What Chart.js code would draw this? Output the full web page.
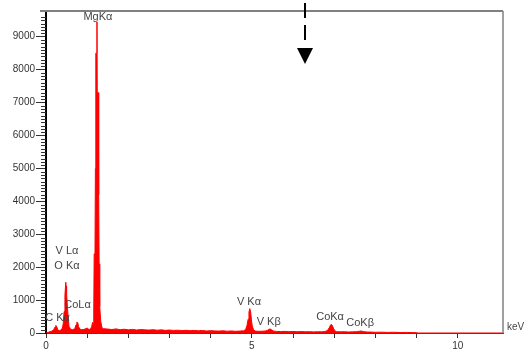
<!DOCTYPE html>
<html>
<head>
<meta charset="utf-8">
<script src="https://cdn.jsdelivr.net/npm/chart.js@4.4.1/dist/chart.umd.min.js"></script>
<style>
  html, body { margin: 0; padding: 0; background: #fff; }
  canvas { display: block; }
</style>
</head>
<body>
<canvas id="spectrum" width="529" height="349"></canvas>
<script>
// energy (keV) and counts
const energy = [
  0.00, 0.05, 0.10, 0.15, 0.19, 0.22, 0.24, 0.26, 0.29, 0.32, 0.36, 0.40, 0.42, 0.44,
  0.46, 0.48, 0.49, 0.50, 0.52, 0.54, 0.56, 0.60, 0.65, 0.70, 0.73, 0.75, 0.77, 0.79,
  0.82, 0.87, 0.92, 0.96, 1.00, 1.03, 1.06, 1.09, 1.11, 1.13, 1.15, 1.16, 1.17, 1.19,
  1.20, 1.21, 1.23, 1.238, 1.245, 1.27, 1.28, 1.29, 1.30, 1.31, 1.33, 1.36, 1.40, 1.50,
  1.60, 1.70, 1.80, 1.90, 2.00, 2.10, 2.20, 2.30, 2.40, 2.50, 2.60, 2.70, 2.80, 2.90,
  3.00, 3.10, 3.20, 3.30, 3.40, 3.50, 3.60, 3.70, 3.80, 3.90, 4.00, 4.10, 4.20, 4.30,
  4.40, 4.50, 4.60, 4.70, 4.80, 4.85, 4.88, 4.91, 4.93, 4.95, 4.97, 4.99, 5.01, 5.04,
  5.08, 5.15, 5.25, 5.33, 5.39, 5.42, 5.45, 5.48, 5.52, 5.60, 5.70, 5.80, 5.90, 6.00,
  6.10, 6.20, 6.30, 6.40, 6.50, 6.60, 6.70, 6.78, 6.84, 6.88, 6.91, 6.93, 6.96, 6.99,
  7.02, 7.06, 7.15, 7.25, 7.35, 7.45, 7.55, 7.62, 7.66, 7.72, 7.80, 7.90, 8.00, 8.15,
  8.30, 8.45, 8.60, 8.75, 8.90, 9.00, 9.05, 11.10
]
const counts = [
  0, 20, 40, 60, 110, 180, 230, 190, 90, 70, 90, 150, 300, 650,
  1150, 1540, 1420, 1200, 800, 450, 200, 110, 100, 130, 250, 330, 320, 200,
  120, 100, 110, 130, 150, 120, 110, 140, 200, 320, 280, 600, 2400, 2500,
  5000, 8500, 8500, 9450, 7300, 7300, 4200, 2100, 1500, 800, 350, 160, 130, 120,
  105, 125, 100, 115, 95, 110, 90, 105, 95, 88, 100, 85, 95, 80,
  90, 78, 85, 72, 82, 70, 78, 68, 75, 62, 70, 64, 58, 66,
  55, 62, 52, 58, 65, 110, 220, 420, 640, 740, 640, 400, 210, 100,
  60, 50, 55, 62, 85, 115, 120, 95, 60, 48, 42, 50, 40, 45,
  38, 44, 36, 40, 34, 38, 35, 45, 80, 160, 240, 265, 210, 120,
  60, 40, 35, 38, 30, 36, 40, 55, 60, 40, 30, 28, 22, 25,
  18, 22, 14, 18, 12, 10, 0, 0
]

// line labels: name, energy (keV) and height (counts) of the text centre
const peakNames = ['MgK\u03b1', 'V L\u03b1', 'O K\u03b1', 'CoL\u03b1', 'C K\u03b1', 'V K\u03b1', 'V K\u03b2', 'CoK\u03b1', 'CoK\u03b2']
const peakEnergy = [1.26, 0.51, 0.51, 0.765, 0.28, 4.93, 5.41, 6.9, 7.63]
const peakHeight = [9600, 2490, 2040, 850, 450, 950, 345, 495, 315]

const arrowEnergy = 6.3
const yMax = 9780
const xMax = 11.1

const points = energy.map((e, i) => ({ x: e, y: counts[i] }))

const frame = {
  id: 'frame',
  afterDraw(chart) {
    const { ctx, chartArea: a, scales: { x, y } } = chart
    ctx.save()
    // minor y ticks every 100
    ctx.strokeStyle = '#333'
    ctx.lineWidth = 1
    y.ticks.forEach(t => {
      if (t.value % 100 !== 0 || t.value % 1000 === 0) return
      const py = Math.round(y.getPixelForValue(t.value)) + 0.5
      ctx.beginPath()
      ctx.moveTo(a.left - 5, py)
      ctx.lineTo(a.left, py)
      ctx.stroke()
    })
    // grey frame top and right
    ctx.strokeStyle = '#808080'
    ctx.lineWidth = 2
    ctx.beginPath()
    ctx.moveTo(a.left - 6, a.top)
    ctx.lineTo(a.right, a.top)
    ctx.stroke()
    ctx.lineWidth = 1.5
    ctx.beginPath()
    ctx.moveTo(a.right, a.top)
    ctx.lineTo(a.right, a.bottom)
    ctx.stroke()
    // peak labels
    ctx.fillStyle = '#444'
    ctx.font = '11px "Liberation Sans", Arial, sans-serif'
    ctx.textAlign = 'center'
    ctx.textBaseline = 'middle'
    peakNames.forEach((n, i) => {
      ctx.fillText(n, x.getPixelForValue(peakEnergy[i]), y.getPixelForValue(peakHeight[i]))
    })
    ctx.textAlign = 'left'
    ctx.font = '10px "Liberation Sans", Arial, sans-serif'
    ctx.fillText('keV', a.right + 4, a.bottom - 6)
    // dashed arrow
    const ax = Math.round(x.getPixelForValue(arrowEnergy))
    ctx.strokeStyle = '#000'
    ctx.lineWidth = 2
    ctx.beginPath()
    ctx.moveTo(ax, a.top - 8)
    ctx.lineTo(ax, a.top + 7)
    ctx.moveTo(ax, a.top + 14)
    ctx.lineTo(ax, a.top + 29)
    ctx.stroke()
    ctx.fillStyle = '#000'
    ctx.beginPath()
    ctx.moveTo(ax - 8, a.top + 37)
    ctx.lineTo(ax + 8, a.top + 37)
    ctx.lineTo(ax, a.top + 53)
    ctx.closePath()
    ctx.fill()
    ctx.restore()
  }
}

new Chart(document.getElementById('spectrum'), {
  type: 'line',
  data: {
    datasets: [{
      data: points,
      borderColor: '#ff0000',
      backgroundColor: '#ff0000',
      borderWidth: 1,
      fill: 'origin',
      pointRadius: 0,
      tension: 0,
    }],
  },
  options: {
    responsive: false,
    animation: false,
    devicePixelRatio: 1,
    layout: { padding: { top: 11, right: 26, left: 0, bottom: 0 } },
    plugins: {
      legend: { display: false },
      tooltip: { enabled: false },
    },
    scales: {
      x: {
        type: 'linear',
        min: 0,
        max: xMax,
        afterFit: s => { s.height = 16 },
        grid: {
          drawOnChartArea: false,
          tickLength: 5,
          tickColor: c => (c.tick && Number.isInteger(c.tick.value) ? '#333' : 'rgba(0,0,0,0)'),
        },
        border: { color: '#444', width: 1 },
        ticks: {
          stepSize: 1,
          autoSkip: false,
          maxRotation: 0,
          padding: 2,
          color: '#333',
          font: { size: 10, family: '"Liberation Sans", Arial, sans-serif' },
          callback: v => (v % 5 === 0 ? v : ''),
        },
      },
      y: {
        min: 0,
        max: yMax,
        afterFit: s => { s.width = 46 },
        grid: {
          drawOnChartArea: false,
          tickLength: 10,
          tickColor: c => (c.tick && c.tick.value % 1000 === 0 ? '#333' : 'rgba(0,0,0,0)'),
        },
        border: { color: '#000', width: 2 },
        ticks: {
          stepSize: 100,
          autoSkip: false,
          padding: 1,
          color: '#333',
          font: { size: 10, family: '"Liberation Sans", Arial, sans-serif' },
          callback: v => (v % 1000 === 0 ? v : ''),
        },
      },
    },
  },
  plugins: [frame],
})
</script>
</body>
</html>
